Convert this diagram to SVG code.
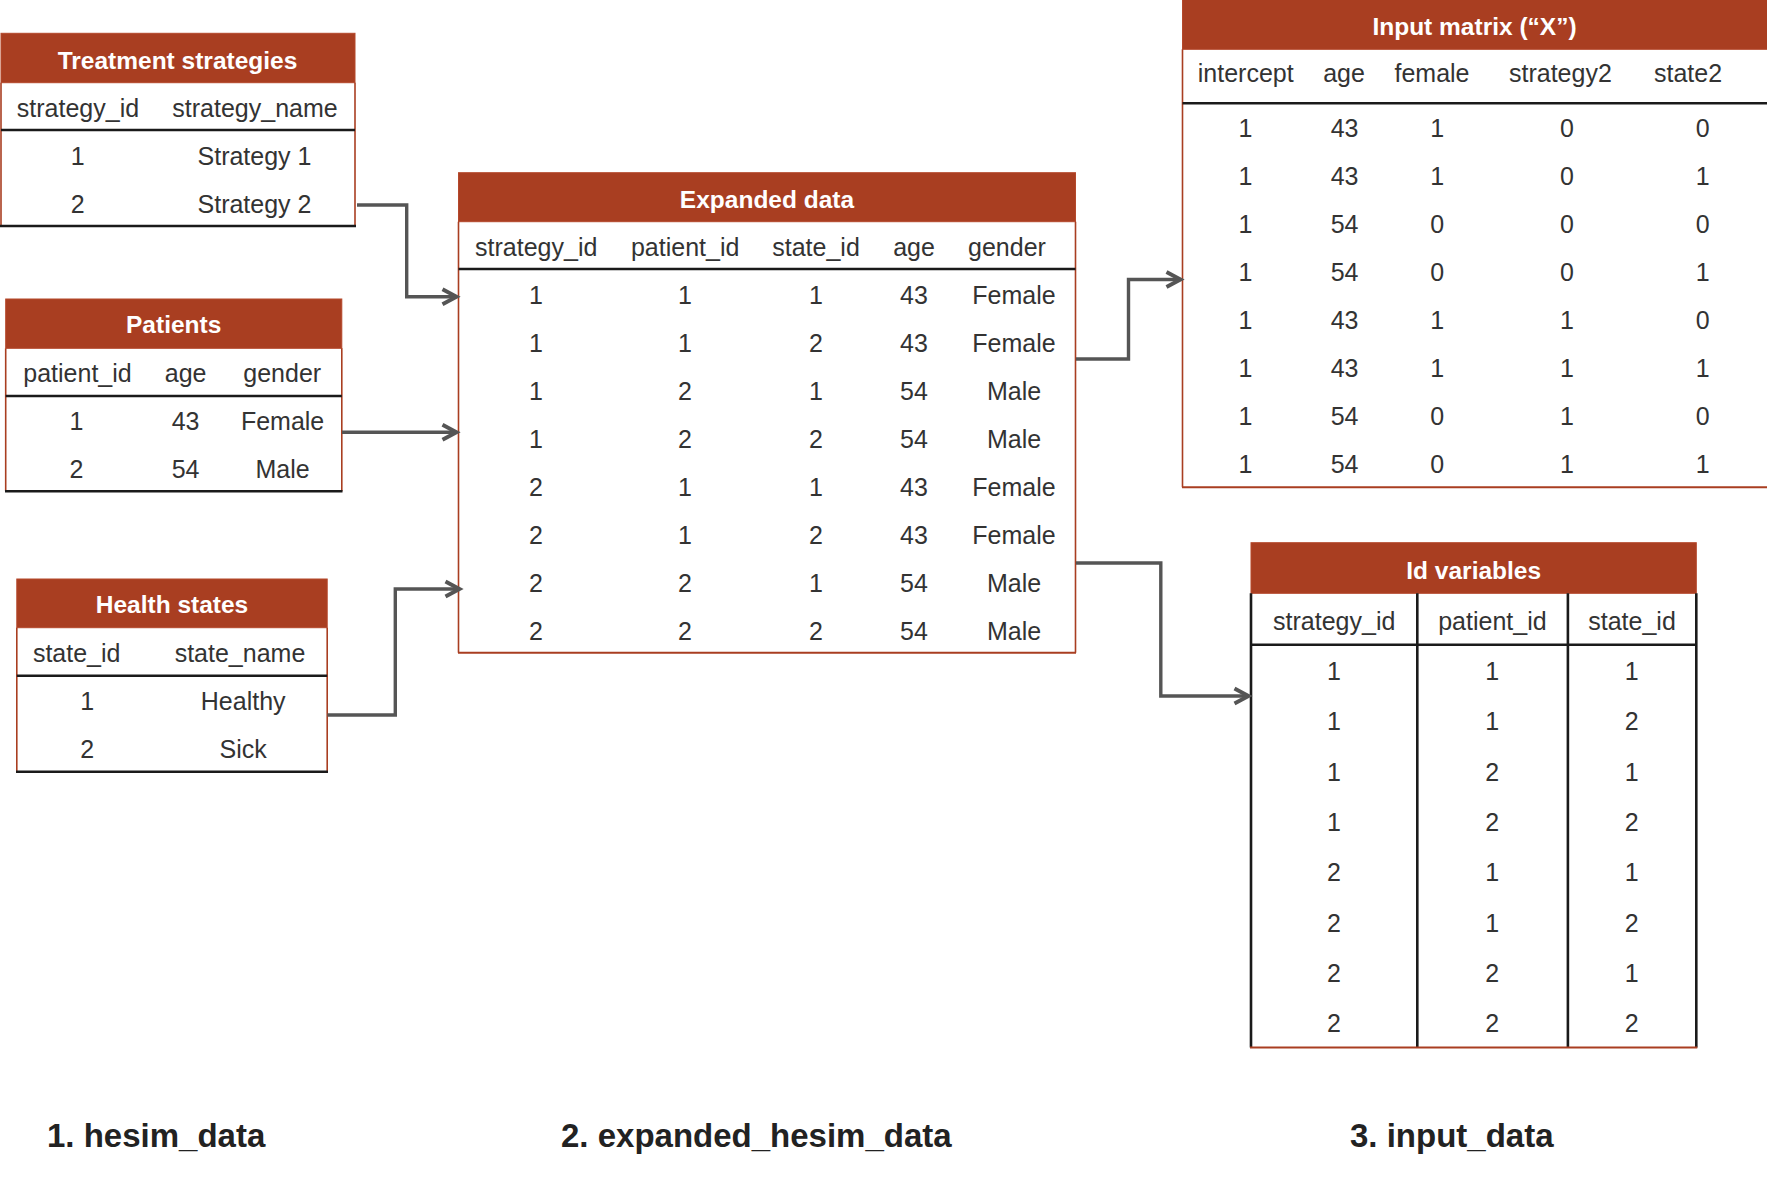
<svg xmlns="http://www.w3.org/2000/svg" width="1767" height="1178" viewBox="0 0 1767 1178">
<style>
.hd{fill:#A93E21;stroke:#B5482B;stroke-width:1}
.side{stroke:#A93E21;stroke-width:1.6;fill:none}
.blk{stroke:#1a1a1a;stroke-width:2.6;fill:none}
.red{stroke:#A93E21;stroke-width:2;fill:none}
.ttl{font-family:"Liberation Sans",Arial,sans-serif;font-weight:bold;font-size:24.5px;fill:#ffffff;text-anchor:middle}
.t{font-family:"Liberation Sans",Arial,sans-serif;font-size:25px;fill:#333333;text-anchor:middle}
.lab{font-family:"Liberation Sans",Arial,sans-serif;font-weight:bold;font-size:33px;fill:#222222}
.con{stroke:#555555;stroke-width:3.4;fill:none}
</style>
<defs>
<marker id="arr" markerWidth="26" markerHeight="22" viewBox="-9 -1 26 22" refX="10" refY="10" orient="auto" markerUnits="userSpaceOnUse" overflow="visible">
<path d="M-4,2.5 L10,10 L-4,17.5" fill="none" stroke="#555555" stroke-width="3.9" stroke-linejoin="miter"/>
</marker>
</defs>

<g id="treatment-strategies">
<rect class="hd" x="1" y="33.3" width="354" height="49.4"/>
<line class="side" x1="1" y1="82.7" x2="1" y2="226"/>
<line class="side" x1="355" y1="82.7" x2="355" y2="226"/>
<line class="blk" x1="1" y1="130" x2="355" y2="130"/>
<line class="blk" x1="0" y1="226" x2="356" y2="226"/>
<text class="ttl" x="177.5" y="69">Treatment strategies</text>
<text class="t" x="78" y="117.3">strategy_id</text>
<text class="t" x="255" y="117.3">strategy_name</text>
<text class="t" x="77.7" y="165">1</text>
<text class="t" x="254.5" y="165">Strategy 1</text>
<text class="t" x="77.7" y="213.3">2</text>
<text class="t" x="254.5" y="213.3">Strategy 2</text>
</g>

<g id="patients">
<rect class="hd" x="5.7" y="299" width="336.1" height="49.3"/>
<line class="side" x1="5.7" y1="348.3" x2="5.7" y2="491.3"/>
<line class="side" x1="341.8" y1="348.3" x2="341.8" y2="491.3"/>
<line class="blk" x1="5.7" y1="396" x2="341.8" y2="396"/>
<line class="blk" x1="5" y1="491.3" x2="342.5" y2="491.3"/>
<text class="ttl" x="173.7" y="333.3">Patients</text>
<text class="t" x="77.5" y="381.7">patient_id</text>
<text class="t" x="185.6" y="381.7">age</text>
<text class="t" x="282.2" y="381.7">gender</text>
<text class="t" x="76.5" y="430">1</text>
<text class="t" x="185.6" y="430">43</text>
<text class="t" x="282.6" y="430">Female</text>
<text class="t" x="76.5" y="478.3">2</text>
<text class="t" x="185.6" y="478.3">54</text>
<text class="t" x="282.6" y="478.3">Male</text>
</g>

<g id="health-states">
<rect class="hd" x="16.8" y="579" width="310.4" height="48.7"/>
<line class="side" x1="16.8" y1="627.7" x2="16.8" y2="771.7"/>
<line class="side" x1="327.2" y1="627.7" x2="327.2" y2="771.7"/>
<line class="blk" x1="16.8" y1="675.7" x2="327.2" y2="675.7"/>
<line class="blk" x1="16" y1="771.7" x2="328" y2="771.7"/>
<text class="ttl" x="172" y="613.3">Health states</text>
<text class="t" x="76.7" y="661.7">state_id</text>
<text class="t" x="240" y="661.7">state_name</text>
<text class="t" x="87.3" y="710">1</text>
<text class="t" x="243.2" y="710">Healthy</text>
<text class="t" x="87.3" y="757.7">2</text>
<text class="t" x="243.2" y="757.7">Sick</text>
</g>

<g id="expanded-data">
<rect class="hd" x="458.5" y="172.7" width="617" height="49"/>
<line class="side" x1="458.5" y1="221.7" x2="458.5" y2="652.7"/>
<line class="side" x1="1075.5" y1="221.7" x2="1075.5" y2="652.7"/>
<line class="blk" x1="458.5" y1="269" x2="1075.5" y2="269"/>
<line class="red" x1="458" y1="652.7" x2="1076" y2="652.7"/>
<text class="ttl" x="767" y="207.7">Expanded data</text>
<text class="t" x="536.2" y="256">strategy_id</text>
<text class="t" x="685.2" y="256">patient_id</text>
<text class="t" x="816" y="256">state_id</text>
<text class="t" x="914" y="256">age</text>
<text class="t" x="1007" y="256">gender</text>
<g>
<text class="t" x="536" y="304">1</text><text class="t" x="685" y="304">1</text><text class="t" x="816" y="304">1</text><text class="t" x="914" y="304">43</text><text class="t" x="1014" y="304">Female</text>
<text class="t" x="536" y="352">1</text><text class="t" x="685" y="352">1</text><text class="t" x="816" y="352">2</text><text class="t" x="914" y="352">43</text><text class="t" x="1014" y="352">Female</text>
<text class="t" x="536" y="400">1</text><text class="t" x="685" y="400">2</text><text class="t" x="816" y="400">1</text><text class="t" x="914" y="400">54</text><text class="t" x="1014" y="400">Male</text>
<text class="t" x="536" y="448">1</text><text class="t" x="685" y="448">2</text><text class="t" x="816" y="448">2</text><text class="t" x="914" y="448">54</text><text class="t" x="1014" y="448">Male</text>
<text class="t" x="536" y="496">2</text><text class="t" x="685" y="496">1</text><text class="t" x="816" y="496">1</text><text class="t" x="914" y="496">43</text><text class="t" x="1014" y="496">Female</text>
<text class="t" x="536" y="544">2</text><text class="t" x="685" y="544">1</text><text class="t" x="816" y="544">2</text><text class="t" x="914" y="544">43</text><text class="t" x="1014" y="544">Female</text>
<text class="t" x="536" y="592">2</text><text class="t" x="685" y="592">2</text><text class="t" x="816" y="592">1</text><text class="t" x="914" y="592">54</text><text class="t" x="1014" y="592">Male</text>
<text class="t" x="536" y="640">2</text><text class="t" x="685" y="640">2</text><text class="t" x="816" y="640">2</text><text class="t" x="914" y="640">54</text><text class="t" x="1014" y="640">Male</text>
</g>
</g>

<g id="input-matrix">
<rect class="hd" x="1182.5" y="-1" width="585" height="50.3"/>
<line class="side" x1="1182.5" y1="49.3" x2="1182.5" y2="487.3"/>
<line class="blk" x1="1182.5" y1="103.3" x2="1767" y2="103.3"/>
<line class="red" x1="1182" y1="487.3" x2="1767" y2="487.3"/>
<text class="ttl" x="1474.5" y="35">Input matrix (“X”)</text>
<text class="t" x="1245.7" y="81.7">intercept</text>
<text class="t" x="1344" y="81.7">age</text>
<text class="t" x="1432" y="81.7">female</text>
<text class="t" x="1560.4" y="81.7">strategy2</text>
<text class="t" x="1688" y="81.7">state2</text>
<g>
<text class="t" x="1245.5" y="137.3">1</text><text class="t" x="1344.6" y="137.3">43</text><text class="t" x="1437.3" y="137.3">1</text><text class="t" x="1567" y="137.3">0</text><text class="t" x="1702.7" y="137.3">0</text>
<text class="t" x="1245.5" y="185.3">1</text><text class="t" x="1344.6" y="185.3">43</text><text class="t" x="1437.3" y="185.3">1</text><text class="t" x="1567" y="185.3">0</text><text class="t" x="1702.7" y="185.3">1</text>
<text class="t" x="1245.5" y="233.3">1</text><text class="t" x="1344.6" y="233.3">54</text><text class="t" x="1437.3" y="233.3">0</text><text class="t" x="1567" y="233.3">0</text><text class="t" x="1702.7" y="233.3">0</text>
<text class="t" x="1245.5" y="281.3">1</text><text class="t" x="1344.6" y="281.3">54</text><text class="t" x="1437.3" y="281.3">0</text><text class="t" x="1567" y="281.3">0</text><text class="t" x="1702.7" y="281.3">1</text>
<text class="t" x="1245.5" y="329.3">1</text><text class="t" x="1344.6" y="329.3">43</text><text class="t" x="1437.3" y="329.3">1</text><text class="t" x="1567" y="329.3">1</text><text class="t" x="1702.7" y="329.3">0</text>
<text class="t" x="1245.5" y="377.3">1</text><text class="t" x="1344.6" y="377.3">43</text><text class="t" x="1437.3" y="377.3">1</text><text class="t" x="1567" y="377.3">1</text><text class="t" x="1702.7" y="377.3">1</text>
<text class="t" x="1245.5" y="425.3">1</text><text class="t" x="1344.6" y="425.3">54</text><text class="t" x="1437.3" y="425.3">0</text><text class="t" x="1567" y="425.3">1</text><text class="t" x="1702.7" y="425.3">0</text>
<text class="t" x="1245.5" y="473.3">1</text><text class="t" x="1344.6" y="473.3">54</text><text class="t" x="1437.3" y="473.3">0</text><text class="t" x="1567" y="473.3">1</text><text class="t" x="1702.7" y="473.3">1</text>
</g>
</g>

<g id="id-variables">
<rect class="hd" x="1251" y="542.7" width="445.3" height="50.6"/>
<line class="blk" x1="1251" y1="593.3" x2="1251" y2="1047.6"/>
<line class="blk" x1="1696.3" y1="593.3" x2="1696.3" y2="1047.6"/>
<line class="blk" x1="1417.3" y1="593.3" x2="1417.3" y2="1047.6"/>
<line class="blk" x1="1567.9" y1="593.3" x2="1567.9" y2="1047.6"/>
<line class="blk" x1="1251" y1="644.7" x2="1696.3" y2="644.7"/>
<line class="red" x1="1250" y1="1047.6" x2="1697.3" y2="1047.6"/>
<text class="ttl" x="1473.7" y="579.2">Id variables</text>
<text class="t" x="1334.2" y="629.5">strategy_id</text>
<text class="t" x="1492.4" y="629.5">patient_id</text>
<text class="t" x="1632" y="629.5">state_id</text>
<g>
<text class="t" x="1334" y="680.1">1</text><text class="t" x="1492.2" y="680.1">1</text><text class="t" x="1631.7" y="680.1">1</text>
<text class="t" x="1334" y="730.4">1</text><text class="t" x="1492.2" y="730.4">1</text><text class="t" x="1631.7" y="730.4">2</text>
<text class="t" x="1334" y="780.8">1</text><text class="t" x="1492.2" y="780.8">2</text><text class="t" x="1631.7" y="780.8">1</text>
<text class="t" x="1334" y="831.1">1</text><text class="t" x="1492.2" y="831.1">2</text><text class="t" x="1631.7" y="831.1">2</text>
<text class="t" x="1334" y="881.4">2</text><text class="t" x="1492.2" y="881.4">1</text><text class="t" x="1631.7" y="881.4">1</text>
<text class="t" x="1334" y="931.8">2</text><text class="t" x="1492.2" y="931.8">1</text><text class="t" x="1631.7" y="931.8">2</text>
<text class="t" x="1334" y="982.1">2</text><text class="t" x="1492.2" y="982.1">2</text><text class="t" x="1631.7" y="982.1">1</text>
<text class="t" x="1334" y="1032.4">2</text><text class="t" x="1492.2" y="1032.4">2</text><text class="t" x="1631.7" y="1032.4">2</text>
</g>
</g>

<g id="connectors">
<path class="con" d="M357,205 H406.7 V296.7 H456.5" marker-end="url(#arr)"/>
<path class="con" d="M342,432.3 H456.5" marker-end="url(#arr)"/>
<path class="con" d="M327.5,715 H395.3 V589 H459.5" marker-end="url(#arr)"/>
<path class="con" d="M1076,359 H1128.5 V279.5 H1180.5" marker-end="url(#arr)"/>
<path class="con" d="M1076,563 H1160.8 V696 H1248.5" marker-end="url(#arr)"/>
</g>

<g id="labels">
<text class="lab" x="47" y="1147">1. hesim_data</text>
<text class="lab" x="561" y="1147">2. expanded_hesim_data</text>
<text class="lab" x="1350" y="1147">3. input_data</text>
</g>
</svg>
